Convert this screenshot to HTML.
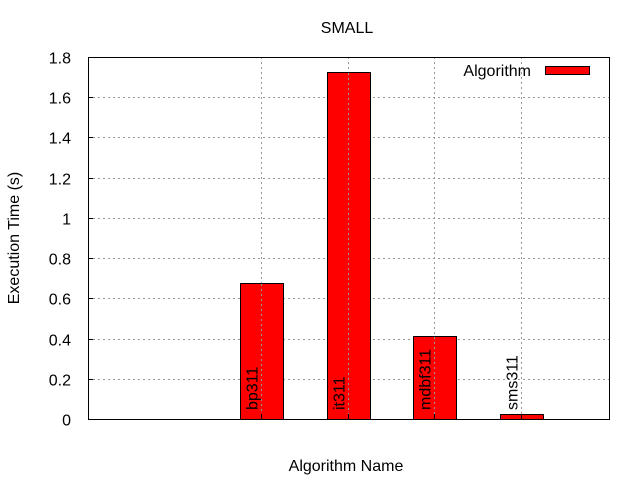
<!DOCTYPE html>
<html><head><meta charset="utf-8"><style>
html,body{margin:0;padding:0;background:#fff}
svg text{font-family:"Liberation Sans",sans-serif;font-size:16px;fill:#000}
</style></head><body>
<svg width="640" height="480" xmlns="http://www.w3.org/2000/svg">
<text x="347" y="33" text-anchor="middle">SMALL</text>
<g id="grid"></g><g id="bars"></g><g id="axes"></g>
<text x="346" y="471" text-anchor="middle">Algorithm Name</text>
<text transform="translate(19,238) rotate(-90)" text-anchor="middle">Execution Time (s)</text>
<g>
<text x="531" y="76" text-anchor="end">Algorithm</text>
<rect x="545.5" y="66.5" width="44" height="8" fill="#f00" stroke="#000"/>
</g>
</svg>
<script>
const categories=["bp311","it311","mdbf311","sms311"];
const values=[0.676,1.724,0.413,0.025];
const yTicks=[0,0.2,0.4,0.6,0.8,1,1.2,1.4,1.6,1.8];
const yTickLabels=["0","0.2","0.4","0.6","0.8","1","1.2","1.4","1.6","1.8"];
const L=88,R=609,T=57,B=419,xmin=-2,xmax=4,ymax=1.8;
const NS="http://www.w3.org/2000/svg";
const xs=v=>L+(v-xmin)/(xmax-xmin)*(R-L);
const ys=v=>B-v/ymax*(B-T);
function mk(tag,attrs,parent,txt){const e=document.createElementNS(NS,tag);for(const k in attrs)e.setAttribute(k,attrs[k]);if(txt!==undefined)e.textContent=txt;document.getElementById(parent).appendChild(e);return e;}
yTicks.forEach((t,i)=>{
  const y=Math.round(ys(t))+0.5;
  if(t>0&&t<ymax){const g=mk('line',{x1:L,x2:R,y1:y,y2:y,stroke:'#999','stroke-dasharray':'2,3'},'grid');
  
  }
  const tk=mk('line',{x1:L,x2:L+5,y1:y,y2:y,stroke:'#000'},'axes');
  
  
  const tl=mk('text',{x:L-17,y:y+6,'text-anchor':'end'},'axes',yTickLabels[i]);
  
  
});
categories.forEach((c,i)=>{
  const cx=Math.round(xs(i))-0.5;
  const g=mk('line',{x1:cx,x2:cx,y1:T,y2:B,stroke:'#999','stroke-dasharray':'2,3'},'grid');
  
  
  const w=(xs(1)-xs(0))*0.5;
  const y=ys(values[i]);
  const b=mk('rect',{x:Math.round(cx-w/2)+0.5,y:Math.round(y)+0.5,width:Math.round(w),height:Math.max(0,B-Math.round(y)),fill:'#f00',stroke:'#000'},'bars');
  
  
  const ln=mk('line',{x1:cx,x2:cx,y1:Math.round(y)+1,y2:B,stroke:'#999','stroke-dasharray':'2,3'},'bars');
  
  
  const tk=mk('line',{x1:cx,x2:cx,y1:B-5,y2:B,stroke:'#000'},'axes');
  
  
  const t=mk('text',{transform:`translate(${cx-4},410) rotate(-90)`,'text-anchor':'start'},'axes',c);
  
  
});
const fr=mk('rect',{x:L+0.5,y:T+0.5,width:R-L,height:B-T,fill:'none',stroke:'#000'},'axes');


</script>
</body></html>
